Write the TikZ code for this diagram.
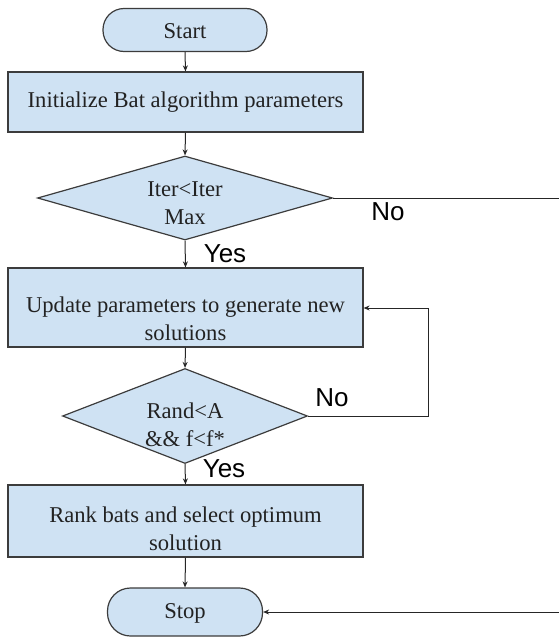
\documentclass[tikz,border=0pt]{standalone}
\usepackage{fontspec}
\setmainfont{Liberation Serif}
\newfontfamily\arialfont{Liberation Sans}
\usetikzlibrary{shapes.geometric,arrows.meta,calc}
\definecolor{boxfill}{HTML}{CFE2F3}
\definecolor{boxline}{HTML}{3C3C3C}
\definecolor{txtcol}{HTML}{222222}
\tikzset{
  base/.style={draw=boxline, fill=boxfill, line width=1.2pt, inner sep=0pt},
  terminal/.style={base, rectangle, rounded corners=#1},
  procbox/.style={base, rectangle, minimum width=355pt},
  decision/.style={base, diamond},
  txt/.style={text=txtcol, align=center, font=\fontsize{22.6}{28}\selectfont},
  lbl/.style={text=black, font=\arialfont\fontsize{26}{30}\selectfont, inner sep=0pt},
  conn/.style={draw=black!85, line width=1pt, -{Stealth[length=6pt,width=5pt]}},
  plain/.style={draw=black!85, line width=1pt}
}
\begin{document}
\begin{tikzpicture}[x=1pt,y=-1pt]
\useasboundingbox (0,0) rectangle (558,637);
% nodes
\node[terminal=21pt, minimum width=164pt, minimum height=43pt] (start) at (185,30) {};
\node[txt] (starttxt) at (185,31) {Start};
\node[procbox, minimum height=60pt] (init) at (185.5,102) {};
\node[txt] (inittxt) at (185.5,102) {Initialize Bat algorithm parameters};
\node[decision, minimum width=295pt, minimum height=84pt] (d1) at (185,198) {};
\node[txt] (d1txt) at (185,203) {Iter<Iter\\Max};
\node[procbox, minimum height=79pt] (upd) at (185.5,307.5) {};
\node[txt] (updtxt) at (185.5,319) {Update parameters to generate new\\solutions};
\node[decision, minimum width=245pt, minimum height=95pt] (d2) at (185,416) {};
\node[txt] (d2txt) at (185,425) {Rand<A\\\&\& f<f*};
\node[procbox, minimum height=72pt] (rank) at (185.5,521) {};
\node[txt] (ranktxt) at (185.5,529) {Rank bats and select optimum\\solution};
\node[terminal=23pt, minimum width=155pt, minimum height=48pt] (stop) at (185,612) {};
\node[txt] (stoptxt) at (185,613) {Stop};
% labels
\node[lbl] (no1) at (388,212) {No};
\node[lbl] (yes1) at (225,254) {Yes};
\node[lbl] (no2) at (332,398) {No};
\node[lbl] (yes2) at (224,469) {Yes};
% helper coordinates
\coordinate (rtop) at (562,198);
\coordinate (rbot) at (562,612);
\coordinate (loopb) at (428,416);
\coordinate (loopt) at (428,308);
% connectors
\draw[conn] (start.south) -- (init.north);
\draw[conn] (init.south) -- (d1.north);
\draw[conn] (d1.south) -- (upd.north);
\draw[conn] (upd.south) -- (d2.north);
\draw[conn] (d2.south) -- (rank.north);
\draw[conn] (rank.south) -- (stop.north);
\draw[plain] (d1.east) -- (rtop) -- (rbot);
\draw[conn] (rbot) -- (stop.east);
\draw[conn] (d2.east) -- (loopb) -- (loopt) -- (upd.east |- loopt);
\end{tikzpicture}
\end{document}
